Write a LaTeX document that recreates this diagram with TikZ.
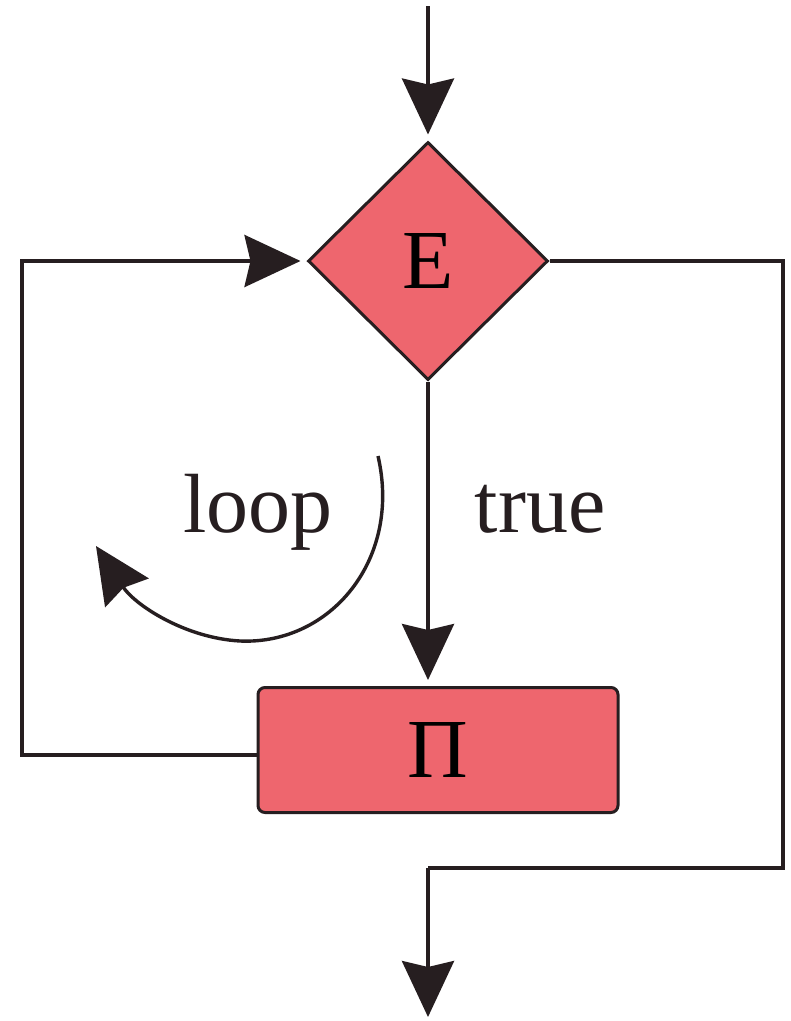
\documentclass[tikz,border=0pt]{standalone}
\usepackage{fontspec}
\setmainfont{Liberation Serif}
\usetikzlibrary{shapes.geometric,arrows.meta}
\definecolor{boxred}{RGB}{238,102,110}
\definecolor{ink}{RGB}{38,30,32}
\tikzset{
  conn/.style={draw=ink, line width=3.8pt},
  bigtip/.style={-{Stealth[length=56pt,width=52pt,inset=6pt]}},
  arr/.style={conn, bigtip, shorten >=6pt},
  decision/.style={diamond, aspect=1, draw=ink, line width=3pt, fill=boxred,
    minimum width=240pt, minimum height=238pt, inner sep=0pt,
    font=\fontsize{84}{100}\selectfont},
  process/.style={rectangle, rounded corners=7pt, draw=ink, line width=3pt, fill=boxred,
    minimum width=360pt, minimum height=125pt, inner sep=0pt,
    font=\fontsize{84}{100}\selectfont},
  label/.style={font=\fontsize{84}{100}\selectfont, text=ink, anchor=base, inner sep=0pt}
}
\begin{document}
\begin{tikzpicture}[x=1pt,y=-1pt]
\useasboundingbox[fill=white] (0,0) rectangle (791,1021);
\node[decision] (E) at (428,261) {E};
\node[process] (P) at (438,750) {П};
\coordinate (top) at (428,6);
\coordinate (leftx) at (22,0);
\coordinate (rightx) at (783,0);
\coordinate (jy) at (0,868);
\coordinate (bottom) at (428,1017);
\draw[arr] (top) -- (E.north);
\draw[arr] (E.south) -- (E.south |- P.north);
\draw[arr] ([yshift=-5pt]P.west) -- ([yshift=-5pt]P.west -| leftx) -- (E.west -| leftx) -- (E.west);
\draw[conn] (E.east) -- (E.east -| rightx) -- (jy -| rightx) -- (jy -| bottom);
\draw[arr, shorten >=0pt] (jy -| bottom) -- (bottom);
\node[label] (loop) at (258,532) {loop};
\node[label] (true) at (540,532) {true};
\coordinate (ls) at (378,456);
\coordinate (le) at (96,546);
\draw[conn, line width=3.4pt, bigtip] (ls) .. controls (402,560) and (330,645) .. (240,641) .. controls (185,638) and (135,605) .. (le);
\end{tikzpicture}
\end{document}
